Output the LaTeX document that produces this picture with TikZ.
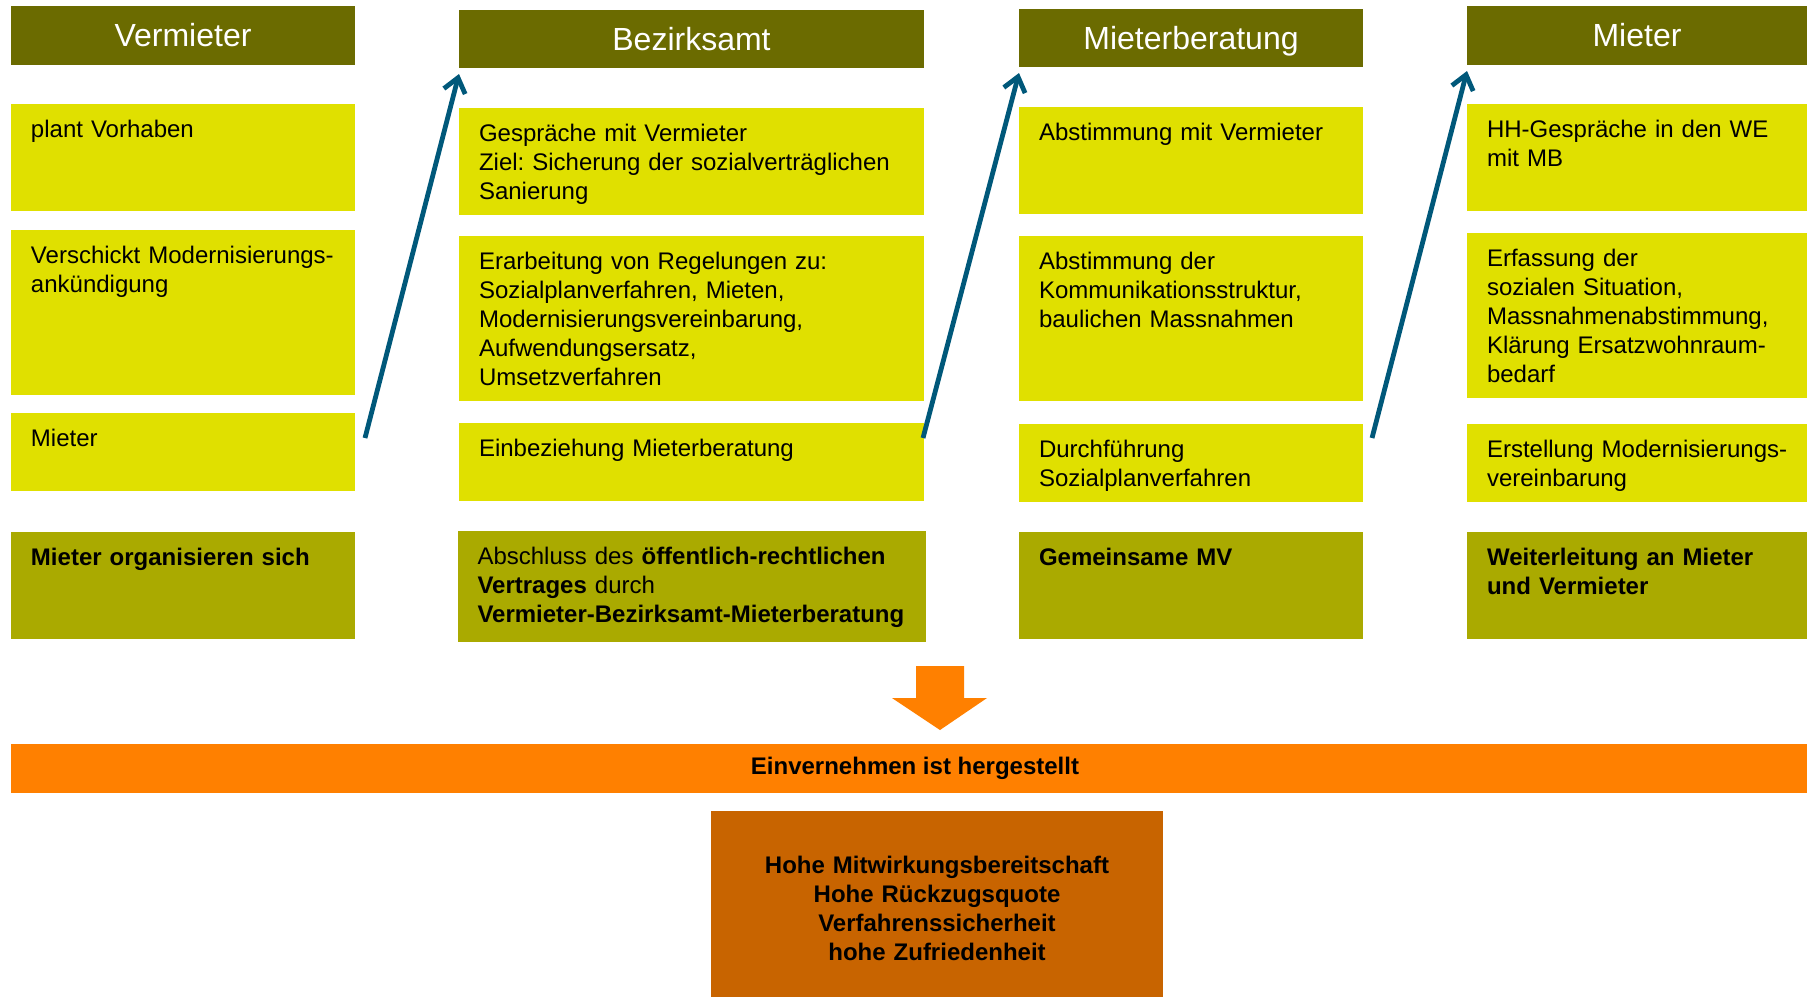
\documentclass[tikz,border=0pt]{standalone}
\usepackage{fontspec}
\setmainfont{Liberation Sans}
\usepackage{xcolor}
\usetikzlibrary{positioning,arrows.meta}
\frenchspacing

\definecolor{headolive}{RGB}{107,107,0}
\definecolor{taskyellow}{RGB}{224,224,0}
\definecolor{resultolive}{RGB}{170,170,0}
\definecolor{bandorange}{RGB}{255,128,0}
\definecolor{goalbrown}{RGB}{200,100,0}
\definecolor{flowblue}{RGB}{0,88,122}

\tikzset{
    head/.style={fill=headolive, text=white, font=\fontsize{16}{19}\selectfont,
        anchor=north west, inner sep=0pt, outer sep=0pt, minimum height=29.5pt,
        text height=13pt, text depth=2pt},
    task/.style={fill=taskyellow, anchor=north west, align=left, inner xsep=10pt,
        inner ysep=0pt, outer sep=0pt, text height=16.5pt},
    result/.style={task, fill=resultolive},
    short/.style={text depth=22.5pt},
    mid/.style={text depth=37pt},
    tall/.style={text depth=66pt},
    band/.style={fill=bandorange, anchor=north west, inner sep=0pt, outer sep=0pt,
        font=\fontsize{12}{14.5}\selectfont\bfseries, minimum width=898pt, minimum height=24.5pt},
    goal/.style={fill=goalbrown, anchor=north west, align=center, outer sep=0pt,
        font=\fontsize{12}{14.5}\selectfont\bfseries, text width=206pt, inner xsep=10pt,
        inner ysep=0pt, text height=31pt, text depth=62pt},
    flow/.style={draw=flowblue, line width=2.4pt, -{Straight Barb[length=7pt,width=11pt]}}
}

\begin{document}
\begin{tikzpicture}[x=0.5pt, y=-0.5pt, font=\fontsize{12}{14.5}\selectfont]
    \useasboundingbox (0,0) rectangle (1807,997);

    \node[head, minimum width=172pt] (vermieter) at (11,6) {Vermieter};
    \node[task, mid, text width=152pt, below=19.5pt of vermieter] (v1) {plant Vorhaben};
    \node[task, tall, text width=152pt, below=9.5pt of v1] (v2) {\mbox{Verschickt Modernisierungs-}\\ankündigung};
    \node[task, short, text width=152pt, below=9pt of v2] (v3) {Mieter};
    \node[result, mid, text width=152pt, below=20.5pt of v3] (v4) {\textbf{Mieter organisieren sich}};

    \node[head, minimum width=232.5pt, minimum height=29pt] (bezirk) at (459,10) {Bezirksamt};
    \node[task, mid, text width=212.5pt, below=20pt of bezirk] (b1) {Gespräche mit Vermieter\\Ziel: Sicherung der sozialverträglichen\\Sanierung};
    \node[task, tall, text width=212.5pt, below=10.5pt of b1] (b2) {Erarbeitung von Regelungen zu:\\Sozialplanverfahren, Mieten,\\Modernisierungsvereinbarung,\\Aufwendungsersatz,\\Umsetzverfahren};
    \node[task, short, text width=212.5pt, below=11pt of b2] (b3) {Einbeziehung Mieterberatung};
    \node[result, text depth=39pt, text width=214pt, below=15pt of b3] (b4) {Abschluss des \textbf{öffentlich-rechtlichen}\\\textbf{Vertrages} durch\\\mbox{\textbf{Vermieter-Bezirksamt-Mieterberatung}}};

    \node[head, minimum width=172pt, minimum height=29pt] (beratung) at (1019,9) {Mieterberatung};
    \node[task, mid, text width=152pt, below=20pt of beratung] (m1) {Abstimmung mit Vermieter};
    \node[task, tall, text width=152pt, below=11pt of m1] (m2) {Abstimmung der\\Kommunikationsstruktur,\\baulichen Massnahmen};
    \node[task, short, text width=152pt, below=11.5pt of m2] (m3) {Durchführung\\Sozialplanverfahren};
    \node[result, mid, text width=152pt, below=15pt of m3] (m4) {\textbf{Gemeinsame MV}};

    \node[head, minimum width=170pt] (mieter) at (1467,6) {Mieter};
    \node[task, mid, text width=150pt, below=19.5pt of mieter] (t1) {HH-Gespräche in den WE\\mit MB};
    \node[task, tall, text width=150pt, below=11pt of t1] (t2) {Erfassung der\\sozialen Situation,\\Massnahmenabstimmung,\\Klärung Ersatzwohnraum-\\bedarf};
    \node[task, short, text width=150pt, below=13pt of t2] (t3) {\mbox{Erstellung Modernisierungs-}\\vereinbarung};
    \node[result, mid, text width=150pt, below=15pt of t3] (t4) {\textbf{Weiterleitung an Mieter}\\\textbf{und Vermieter}};

    \draw[flow] ([shift={(5pt,-12.5pt)}]v3.north east) -- ([yshift=-3pt]bezirk.south west);
    \draw[flow] ([shift={(-0.5pt,-7.5pt)}]b3.north east) -- ([yshift=-3pt]beratung.south west);
    \draw[flow] ([shift={(4.5pt,-7pt)}]m3.north east) -- ([yshift=-3pt]mieter.south west);

    \fill[bandorange] (916,666) -- (964,666) -- (964,698) -- (987,698) -- (940,730) -- (892,698) -- (916,698) -- cycle;

    \node[band] (band) at (11,744) {\hspace*{6pt}Einvernehmen ist hergestellt};
    \node[goal] (goal) at (711,811) {Hohe Mitwirkungsbereitschaft\\Hohe Rückzugsquote\\Verfahrenssicherheit\\hohe Zufriedenheit};
\end{tikzpicture}
\end{document}
